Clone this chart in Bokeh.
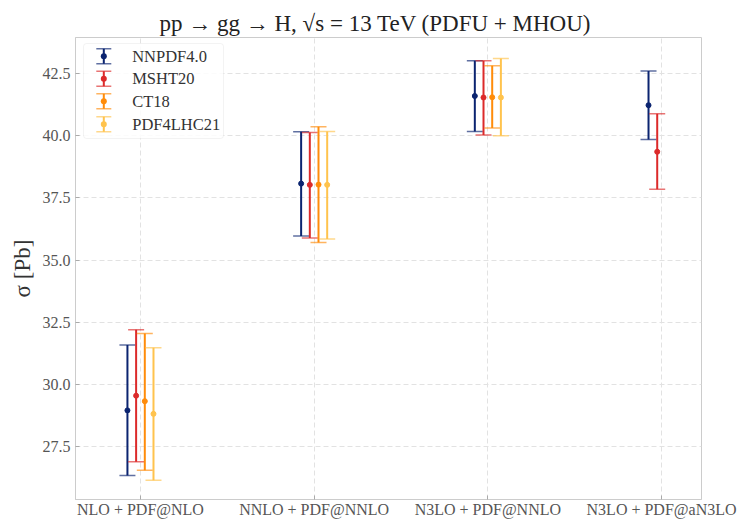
from bokeh.plotting import figure
from bokeh.models import (ColumnDataSource, PrintfTickFormatter, CustomJSTickFormatter,
                          BoxAnnotation, Label, Range1d)
from bokeh.embed import file_html
from bokeh.resources import INLINE

# ---------------- data ----------------
categories = ["NLO + PDF@NLO", "NNLO + PDF@NNLO", "N3LO + PDF@NNLO", "N3LO + PDF@aN3LO"]
pdf_sets = ["NNPDF4.0", "MSHT20", "CT18", "PDF4LHC21"]

nnpdf_central = [28.96, 38.07, 41.59, 41.22]
nnpdf_upper = [31.59, 40.15, 43.01, 42.59]
nnpdf_lower = [26.34, 35.97, 40.16, 39.84]

msht_central = [29.55, 38.02, 41.53, 39.35]
msht_upper = [32.20, 40.12, 43.01, 40.88]
msht_lower = [26.90, 35.89, 40.02, 37.84]

ct18_central = [29.33, 38.03, 41.54]
ct18_upper = [32.05, 40.35, 42.81]
ct18_lower = [26.56, 35.70, 40.30]

pdf4lhc_central = [28.82, 38.02, 41.53]
pdf4lhc_upper = [31.48, 40.16, 43.10]
pdf4lhc_lower = [26.15, 35.85, 39.99]

y_ticks = [27.5, 30.0, 32.5, 35.0, 37.5, 40.0, 42.5]

# ---------------- styling ----------------
colors = ["#0b2470", "#dc2a2a", "#ff8c0a", "#ffc34d"]
offsets = [-0.075, -0.025, 0.025, 0.075]
series = [
    (nnpdf_central, nnpdf_lower, nnpdf_upper),
    (msht_central, msht_lower, msht_upper),
    (ct18_central, ct18_lower, ct18_upper),
    (pdf4lhc_central, pdf4lhc_lower, pdf4lhc_upper),
]
FONT = "Liberation Serif"
SPINE = "#cccccc"
GRID = "#e2e2e2"

p = figure(width=739, height=520, output_backend="svg", toolbar_location=None,
           x_range=Range1d(-0.374, 3.23), y_range=Range1d(25.38, 43.94),
           min_border_left=75, min_border_right=38, min_border_top=37, min_border_bottom=20,
           background_fill_color="white", border_fill_color="white")

p.title.text = "pp → gg → H,  √s = 13 TeV (PDFU + MHOU)"
p.title.text_font = FONT
p.title.text_font_size = "23px"
p.title.text_font_style = "normal"
p.title.text_color = "#222222"
p.title.align = "left"
p.title.offset = 84
p.title.standoff = 0
p.title.vertical_align = "top"

p.outline_line_color = SPINE
p.outline_line_width = 1

# x axis
p.xaxis.ticker = [0, 1, 2, 3]
p.xaxis.formatter = CustomJSTickFormatter(args=dict(labels=categories),
                                          code="const i = Math.round(tick); return (i >= 0 && i < labels.length) ? labels[i] : '';")
# y axis
p.yaxis.ticker = y_ticks
p.yaxis.formatter = PrintfTickFormatter(format="%.1f")
p.yaxis.axis_label = "σ [Pb]"
p.yaxis.axis_label_text_font = FONT
p.yaxis.axis_label_text_font_size = "23px"
p.yaxis.axis_label_text_font_style = "normal"
p.yaxis.axis_label_text_color = "#333333"
p.yaxis.axis_label_standoff = 5

for ax in (p.xaxis, p.yaxis):
    ax.axis_line_color = SPINE
    ax.major_tick_in = 4
    ax.major_tick_out = 0
    ax.major_tick_line_color = "#aaaaaa"
    ax.minor_tick_line_color = None
    ax.major_label_text_font = FONT
    ax.major_label_text_color = "#555555"

p.xaxis.major_label_text_font_size = "16px"
p.xaxis.major_label_standoff = 1
p.yaxis.major_label_text_font_size = "16px"
p.yaxis.major_label_standoff = 5

for g in (p.xgrid, p.ygrid):
    g.grid_line_color = GRID
    g.grid_line_dash = "5 3"
    g.grid_line_width = 1

# error bars
for k, (cen, lo, hi) in enumerate(series):
    c = colors[k]
    xs = [i + offsets[k] for i in range(len(cen))]
    src = ColumnDataSource(dict(x=xs, y=cen, lo=lo, hi=hi))
    p.segment(x0="x", y0="lo", x1="x", y1="hi", source=src, line_color=c, line_width=2)
    p.scatter("x", "lo", source=src, marker="dash", size=16, line_color=c, line_width=1.5, line_alpha=0.65)
    p.scatter("x", "hi", source=src, marker="dash", size=16, line_color=c, line_width=1.5, line_alpha=0.65)
    p.scatter("x", "y", source=src, marker="circle", size=5, fill_color=c, line_color=c)

# ---------------- legend (screen units, relative to the frame) ----------------
def sbox(l, r, t, b, **kw):
    return BoxAnnotation(left=l, right=r, top=t, bottom=b,
                         left_units="screen", right_units="screen",
                         top_units="screen", bottom_units="screen", **kw)

p.add_layout(sbox(8, 148, 456, 361, fill_color="white", fill_alpha=0.85,
                  line_color="#d8d8d8", line_width=1, border_radius=3))

rows = [443.3, 420.7, 398.3, 375.3]
icon_x = 28.3
for k, name in enumerate(pdf_sets):
    c = colors[k]
    ry = rows[k]
    # vertical bar
    p.add_layout(sbox(icon_x - 1, icon_x + 1, ry + 7.5, ry - 7.5,
                      fill_color=c, fill_alpha=1.0, line_color=None))
    # caps
    for cy in (ry + 7.5, ry - 7.5):
        p.add_layout(sbox(icon_x - 7.5, icon_x + 7.5, cy + 0.75, cy - 0.75,
                          fill_color=c, fill_alpha=0.65, line_color=None))
    # dot
    p.add_layout(sbox(icon_x - 3, icon_x + 3, ry + 3, ry - 3,
                      fill_color=c, fill_alpha=1.0, line_color=None, border_radius=3))
    p.add_layout(Label(x=56.7, y=ry, x_units="screen", y_units="screen", text=name,
                       text_font=FONT, text_font_size="16.5px", text_baseline="middle",
                       text_color="#333333"))

open("out.html", "w").write(file_html(p, INLINE))
